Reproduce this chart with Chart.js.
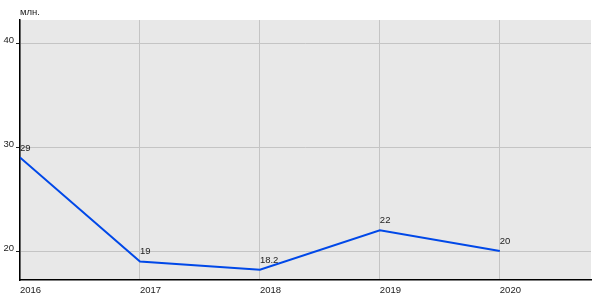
<!DOCTYPE html>
<html>
<head>
<meta charset="utf-8">
<script src="https://cdn.jsdelivr.net/npm/chart.js@4/dist/chart.umd.min.js"></script>
<style>
  html, body { margin: 0; padding: 0; background: #fff; }
  #wrap { width: 600px; height: 300px; }
</style>
</head>
<body>
<div id="wrap"><canvas id="myChart"></canvas></div>
<script>
// data
var years = [2016, 2017, 2018, 2019, 2020];
var values = [29, 19, 18.2, 22, 20];
var yTicks = [20, 30, 40];
var unitLabel = 'млн.';

var font = { family: 'Liberation Sans, Arial, sans-serif', size: 9.5 };

// grey plot background + value labels + unit text
var extras = {
  id: 'extras',
  beforeDraw: function(chart) {
    var a = chart.chartArea, ctx = chart.ctx;
    ctx.save();
    ctx.fillStyle = '#e8e8e8';
    ctx.fillRect(a.left, a.top, a.right - a.left, a.bottom - a.top);
    ctx.restore();
  },
  afterDraw: function(chart) {
    var ctx = chart.ctx;
    var meta = chart.getDatasetMeta(0);
    ctx.save();
    ctx.font = font.size + 'px ' + font.family;
    ctx.fillStyle = '#222';
    ctx.textAlign = 'left';
    ctx.textBaseline = 'alphabetic';
    meta.data.forEach(function(pt, i) {
      ctx.fillText(String(values[i]), pt.x, pt.y - 7);
    });
    ctx.fillText(unitLabel, chart.chartArea.left, 15);
    ctx.restore();
  }
};

var ctx = document.getElementById('myChart').getContext('2d');
var myChart = new Chart(ctx, {
  type: 'line',
  data: {
    datasets: [{
      data: years.map(function(y, i) { return { x: y, y: values[i] }; }),
      borderColor: '#0048e8',
      borderWidth: 2,
      pointRadius: 0,
      tension: 0,
      fill: false
    }]
  },
  options: {
    responsive: true,
    maintainAspectRatio: false,
    animation: false,
    layout: { padding: { top: 20, right: 9, left: 0, bottom: 0 } },
    plugins: { legend: { display: false }, tooltip: { enabled: false } },
    scales: {
      x: {
        type: 'linear',
        min: 2016,
        max: 2020.76,
        afterFit: function(s) { s.height = 20; },
        afterBuildTicks: function(s) { s.ticks = years.map(function(v) { return { value: v }; }); },
        grid: { color: '#c4c4c4', tickLength: 4, tickColor: 'rgba(0,0,0,0)' },
        border: { color: '#000', width: 1.5 },
        ticks: {
          font: font, color: '#222', align: 'start', padding: 1, maxRotation: 0,
          callback: function(v) { return String(v); }
        }
      },
      y: {
        min: 17.21,
        max: 42.24,
        afterFit: function(s) { s.width = 20; },
        afterBuildTicks: function(s) { s.ticks = yTicks.map(function(v) { return { value: v }; }); },
        grid: { color: '#c4c4c4', tickLength: 4, tickColor: '#222' },
        border: { color: '#000', width: 1.5 },
        ticks: { font: font, color: '#222', padding: 2, labelOffset: -3 }
      }
    }
  },
  plugins: [extras]
});
</script>
</body>
</html>
